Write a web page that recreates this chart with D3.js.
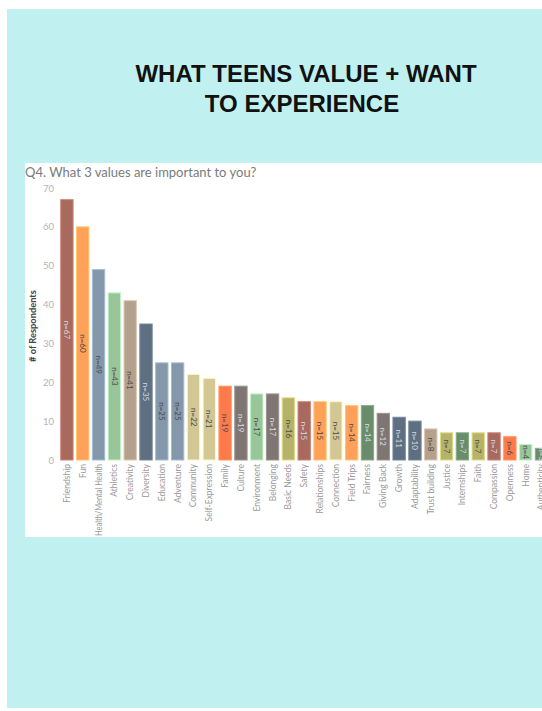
<!DOCTYPE html>
<html>
<head>
<meta charset="utf-8">
<script src="https://cdn.jsdelivr.net/npm/d3@7"></script>
<style>
  html, body { margin: 0; padding: 0; background: #ffffff; }
  svg { display: block; }
</style>
</head>
<body>
<script>
// Survey answers: "Q4. What 3 values are important to you?"
const categories = [
  "Friendship", "Fun", "Health/Mental Health", "Athletics", "Creativity", "Diversity",
  "Education", "Adventure", "Community", "Self-Expression", "Family", "Culture",
  "Environment", "Belonging", "Basic Needs", "Safety", "Relationships", "Connection",
  "Field Trips", "Fairness", "Giving Back", "Growth", "Adaptability", "Trust building",
  "Justice", "Internships", "Faith", "Compassion", "Openness", "Home", "Authenticity"
];
const respondents = [
  67, 60, 49, 43, 41, 35,
  25, 25, 22, 21, 19, 19,
  17, 17, 16, 15, 15, 15,
  14, 14, 12, 11, 10, 8,
  7, 7, 7, 7, 6, 4, 3
];
const barColors = [
  "#a8695f", "#ffa158", "#8497ab", "#98c59a", "#b3a18d", "#5d6f80",
  "#8497ab", "#8497ab", "#d3c796", "#d3c796", "#ff7a4a", "#7f7673",
  "#98c59a", "#7f7673", "#b5b26a", "#a8695f", "#ffa158", "#d3c796",
  "#ffa158", "#6b8c6a", "#7f7673", "#5d6f80", "#5d6f80", "#b3a18d",
  "#b5b26a", "#6b8c6a", "#b5b26a", "#a8695f", "#ff7a4a", "#98c59a", "#6b8c6a"
];
const yTicks = [0, 10, 20, 30, 40, 50, 60, 70];

const W = 542, H = 711;
const svg = d3.select("body").append("svg")
  .attr("width", W).attr("height", H);

// page panel
svg.append("rect").attr("x", 7).attr("y", 9).attr("width", W - 7).attr("height", 699)
  .attr("fill", "#c0f0ef");

// heading
const heading = svg.append("text")
  .attr("text-anchor", "middle")
  .attr("font-family", "Liberation Sans, Arial, sans-serif")
  .attr("font-weight", "bold")
  .attr("font-size", 24)
  .attr("fill", "#111");
heading.append("tspan").attr("x", 306).attr("y", 82).text("WHAT TEENS VALUE + WANT");
heading.append("tspan").attr("x", 302).attr("y", 112).text("TO EXPERIENCE");

// chart card
const card = { x: 25, y: 163, w: W - 25, h: 374 };
svg.append("defs").append("clipPath").attr("id", "card-clip")
  .append("rect").attr("x", card.x).attr("y", card.y).attr("width", card.w).attr("height", card.h);

svg.append("rect").attr("x", card.x).attr("y", card.y).attr("width", card.w).attr("height", card.h)
  .attr("fill", "#ffffff");

svg.append("text")
  .attr("x", 25).attr("y", 177)
  .attr("font-family", "Lato, 'Open Sans', sans-serif")
  .attr("font-size", 13)
  .attr("fill", "#7a7a7a")
  .text("Q4. What 3 values are important to you?");

// scales
const x0 = 59, step = 15.82;
const x = d3.scaleBand()
  .domain(categories)
  .range([x0, x0 + step * categories.length])
  .paddingInner(0.22).paddingOuter(0.11);

const y = d3.scaleLinear().domain([0, 70]).range([460, 188]);

const g = svg.append("g").attr("clip-path", "url(#card-clip)");

// y axis
const yAxis = d3.axisLeft(y).tickValues(yTicks).tickSize(0).tickPadding(0);
const ya = g.append("g").attr("transform", "translate(54,0)").call(yAxis);
ya.select(".domain").remove();
ya.selectAll("text")
  .attr("font-family", "Lato, 'Open Sans', sans-serif")
  .attr("font-size", 9.5)
  .attr("fill", "#b4b4b4");

svg.append("text")
  .attr("transform", "translate(36," + 326 + ") rotate(-90)")
  .attr("text-anchor", "middle")
  .attr("font-family", "Lato, 'Open Sans', sans-serif")
  .attr("font-weight", "bold")
  .attr("font-size", 9.3)
  .attr("fill", "#444")
  .text("# of Respondents");

// bars
const bars = g.append("g").selectAll("g.bar")
  .data(categories.map((c, i) => ({ c, v: respondents[i], col: barColors[i] })))
  .join("g").attr("class", "bar");

bars.append("rect")
  .attr("x", d => x(d.c))
  .attr("y", d => y(d.v))
  .attr("width", x.bandwidth())
  .attr("height", d => y(0) - y(d.v))
  .attr("fill", d => d.col)
  .attr("stroke", d => d3.color(d.col).brighter(0.6))
  .attr("stroke-width", 1);

// value labels inside bars
bars.append("text")
  .attr("transform", d => {
    const cx = x(d.c) + x.bandwidth() / 2;
    const cy = (y(d.v) + y(0)) / 2;
    return "translate(" + cx + "," + cy + ") rotate(90)";
  })
  .attr("text-anchor", "middle")
  .attr("dy", "0.35em")
  .attr("font-family", "Lato, 'Open Sans', sans-serif")
  .attr("font-size", 8)
  .attr("fill", d => {
    const l = d3.hsl(d.col).l;
    return l < 0.55 ? "#d8dde2" : "#4a4a4a";
  })
  .text(d => "n=" + d.v);

// category labels, squeezed to fit above the card's bottom edge
const labelRoom = card.y + card.h - 465;
const xAxis = d3.axisBottom(x).tickSize(0).tickPadding(0);
const xa = g.append("g").attr("transform", "translate(0,464)").call(xAxis);
xa.select(".domain").remove();
xa.selectAll("text")
  .attr("transform", "rotate(-90)")
  .attr("text-anchor", "end")
  .attr("x", 0).attr("y", 0).attr("dy", "0.35em")
  .attr("font-family", "Lato, 'Open Sans', sans-serif")
  .attr("font-size", 8.5)
  .attr("fill", "#9a9a9a")
  .each(function () {
    if (this.getComputedTextLength() > labelRoom) {
      d3.select(this).attr("textLength", labelRoom).attr("lengthAdjust", "spacingAndGlyphs");
    }
  });
</script>
</body>
</html>
